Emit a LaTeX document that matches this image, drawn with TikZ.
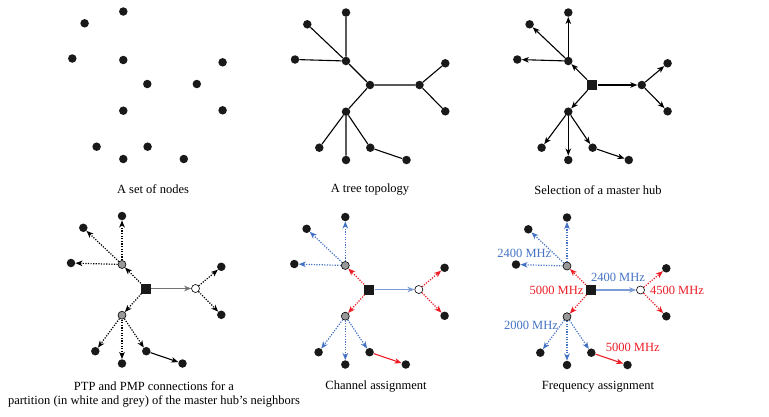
\documentclass[tikz,border=0pt]{standalone}
\usepackage{fontspec}
\setmainfont{Liberation Serif}
\usetikzlibrary{arrows.meta}
\definecolor{cblue}{RGB}{68,114,196}
\definecolor{cred}{RGB}{236,28,36}
\tikzset{
  dotn/.style={circle,fill=black!90,inner sep=0pt,minimum size=8.5pt},
  mastern/.style={rectangle,fill=black!90,inner sep=0pt,minimum size=10pt},
  greyn/.style={circle,fill=black!40,draw=black,line width=0.6pt,inner sep=0pt,minimum size=8pt},
  whiten/.style={circle,fill=white,draw=black,line width=0.6pt,inner sep=0pt,minimum size=8pt},
  edge/.style={line width=1.1pt},
  arr/.style={edge,-{Stealth[length=7pt,width=5.5pt,inset=2pt]}},
  darr/.style={arr,line width=1.2pt,dash pattern=on 1.2pt off 1.4pt},
  sarr/.style={arr,line width=1.3pt},
  captext/.style={font=\fontsize{12.5}{14.5}\selectfont,inner sep=0pt,align=center},
  lab/.style={font=\fontsize{12.5}{14.5}\selectfont,inner sep=0pt}
}
\newcommand\mytree[6]{%
\begin{scope}[shift={#2}]
\node[#3] (#1C) at (0,0) {};
\node[#4] (#1A) at (-24,-24) {};
\node[dotn] (#1T) at (-24,-72.5) {};
\node[dotn] (#1UL) at (-62.7,-60.7) {};
\node[dotn] (#1L) at (-75,-25.5) {};
\node[#5] (#1B) at (49.5,0) {};
\node[dotn] (#1BA) at (75.3,-21.7) {};
\node[dotn] (#1BB) at (75.3,26.3) {};
\node[#6] (#1D) at (-24,26.7) {};
\node[dotn] (#1DA) at (-50.7,62.7) {};
\node[dotn] (#1DB) at (-24,75) {};
\node[dotn] (#1DC) at (0.3,62.7) {};
\node[dotn] (#1DD) at (36.5,75) {};
\end{scope}}
\begin{document}
\begin{tikzpicture}[x=1pt,y=-1pt]
\useasboundingbox (0,0) rectangle (769,416);
% panel 1
\mytree{a}{(147.3,84)}{dotn}{dotn}{dotn}{dotn}
\node[captext] (capa) at (153,189.5) {A set of nodes};
% panel 2
\mytree{b}{(370,85)}{dotn}{dotn}{dotn}{dotn}
\draw[edge] (bC)--(bA) (bA)--(bT) (bA)--(bUL) (bA)--(bL) (bC)--(bB) (bB)--(bBA) (bB)--(bBB)
  (bC)--(bD) (bD)--(bDA) (bD)--(bDB) (bD)--(bDC) (bDC)--(bDD);
\node[captext] (capb) at (370,190) {A tree topology};
% panel 3
\mytree{c}{(592.3,85)}{mastern}{dotn}{dotn}{dotn}
\foreach \s/\t in {C/A,A/T,A/UL,A/L,C/B,B/BA,B/BB,C/D,D/DA,D/DB,D/DC,DC/DD}
  \draw[arr] (c\s)--(c\t);
\node[captext] (capc) at (598,190) {Selection of a master hub};
% panel 4
\mytree{d}{(146,288.5)}{mastern}{greyn}{whiten}{greyn}
\foreach \s/\t in {C/A,A/T,A/UL,A/L,B/BA,B/BB,C/D,D/DA,D/DB,D/DC}
  \draw[darr] (d\s)--(d\t);
\draw[sarr,draw=black!55,fill=black] (dC)--(dB);
\draw[arr] (dDC)--(dDD);
\node[captext] (capd) at (154,394.5) {PTP and PMP connections for a\\partition (in white and grey) of the master hub's neighbors};
% panel 5
\mytree{e}{(369.3,289.5)}{mastern}{greyn}{whiten}{greyn}
\foreach \s/\t in {A/T,A/UL,A/L,D/DA,D/DB,D/DC}
  \draw[darr,cblue] (e\s)--(e\t);
\foreach \s/\t in {C/A,C/D,B/BA,B/BB}
  \draw[darr,cred] (e\s)--(e\t);
\draw[sarr,draw=cblue!70,fill=cblue] (eC)--(eB);
\draw[arr,cred] (eDC)--(eDD);
\node[captext] (cape) at (376,387) {Channel assignment};
% panel 6
\mytree{f}{(591,290)}{mastern}{greyn}{whiten}{greyn}
\foreach \s/\t in {A/T,A/UL,A/L,D/DA,D/DB,D/DC}
  \draw[darr,cblue] (f\s)--(f\t);
\foreach \s/\t in {C/A,C/D,B/BA,B/BB}
  \draw[darr,cred] (f\s)--(f\t);
\draw[sarr,draw=cblue!70,fill=cblue] (fC)--(fB);
\draw[arr,cred] (fDC)--(fDD);
\node[lab,cblue] (l1) at (524.3,253) {2400 MHz};
\node[lab,cblue] (l2) at (618,277.5) {2400 MHz};
\node[lab,cred] (l3) at (556.5,290) {5000 MHz};
\node[lab,cred] (l4) at (677,290) {4500 MHz};
\node[lab,cblue] (l5) at (531,325) {2000 MHz};
\node[lab,cred] (l6) at (632.7,347.5) {5000 MHz};
\node[captext] (capf) at (598,387) {Frequency assignment};
\end{tikzpicture}
\end{document}
